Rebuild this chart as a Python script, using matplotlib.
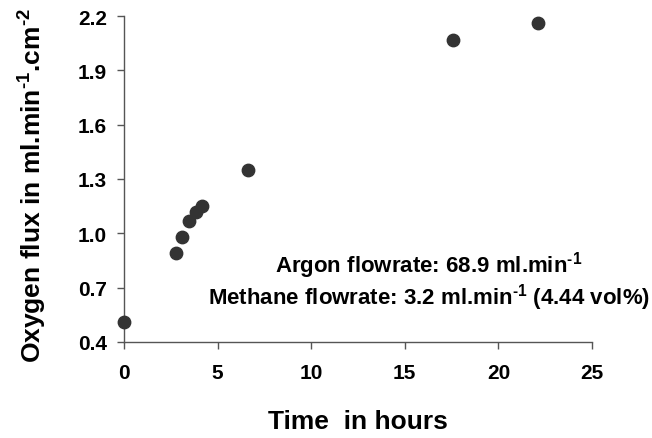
import matplotlib
matplotlib.use("Agg")
import matplotlib.pyplot as plt

plt.rcParams['font.family'] = ['Liberation Sans', 'DejaVu Sans']
plt.rcParams['font.weight'] = 'bold'
plt.rcParams['mathtext.fontset'] = 'custom'
plt.rcParams['mathtext.rm'] = 'Liberation Sans:bold'
plt.rcParams['mathtext.it'] = 'Liberation Sans:bold'
plt.rcParams['mathtext.bf'] = 'Liberation Sans:bold'
plt.rcParams['mathtext.default'] = 'rm'

time_h = [0.0, 2.78, 3.13, 3.47, 3.83, 4.18, 6.64, 17.6, 22.1]
oxygen_flux = [0.51, 0.89, 0.98, 1.07, 1.12, 1.15, 1.35, 2.07, 2.16]
x_ticks = [0, 5, 10, 15, 20, 25]
y_ticks = [0.4, 0.7, 1.0, 1.3, 1.6, 1.9, 2.2]

fig = plt.figure(figsize=(6.52, 4.39), dpi=100)
ax = fig.add_axes([0.190, 0.219, 0.718, 0.742])

ax.scatter(time_h, oxygen_flux, s=80, color='#333333', zorder=3, clip_on=False)

ax.set_xlim(0, 25)
ax.set_ylim(0.4, 2.2)
ax.set_xticks(x_ticks)
ax.set_yticks(y_ticks)
ax.set_xticklabels([str(t) for t in x_ticks])
ax.set_yticklabels([f"{v:.1f}" for v in y_ticks])

for s in ['top', 'right']:
    ax.spines[s].set_visible(False)
for s in ['left', 'bottom']:
    ax.spines[s].set_color('#555555')
    ax.spines[s].set_linewidth(1.0)
ax.tick_params(axis='both', colors='#555555', labelcolor='black', labelsize=15, length=5, width=1)
ax.tick_params(axis='x', pad=10)
ax.tick_params(axis='y', pad=7)
for lbl in ax.get_xticklabels() + ax.get_yticklabels():
    lbl.set_fontweight('bold')

sup1 = r'$^{\text{-1}}$'
sup2 = r'$^{\text{-2}}$'
ax.set_xlabel('Time  in hours', fontsize=19, fontweight='bold', labelpad=20)
ax.set_ylabel('Oxygen flux in ml.min' + sup1 + '.cm' + sup2, fontsize=19, fontweight='bold', labelpad=21)
ax.yaxis.label.set_y(0.482)

ax.text(16.3, 0.825, 'Argon flowrate: 68.9 ml.min' + sup1, ha='center', va='center',
        fontsize=16, fontweight='bold')
ax.text(16.3, 0.65, 'Methane flowrate: 3.2 ml.min' + sup1 + ' (4.44 vol%)', ha='center', va='center',
        fontsize=16, fontweight='bold')

fig.savefig('out.png', dpi=100)
